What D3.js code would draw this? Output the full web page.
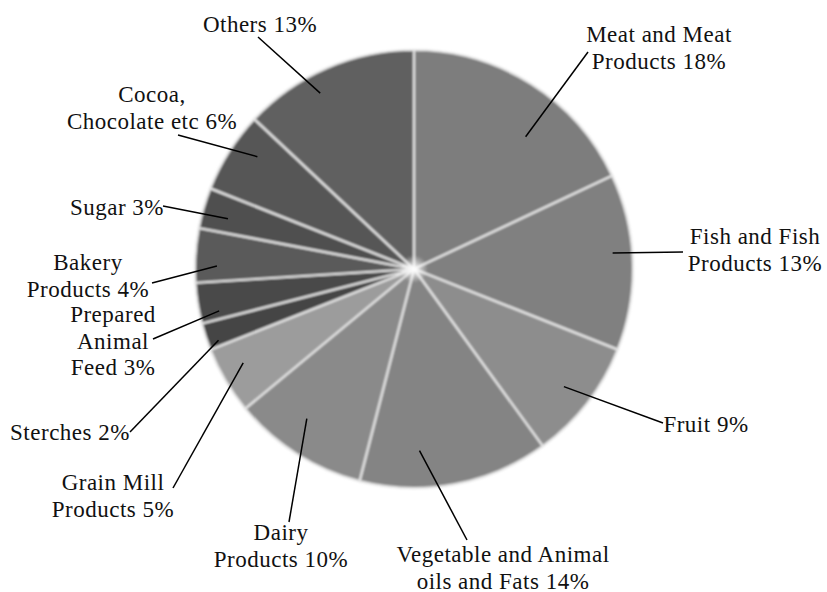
<!DOCTYPE html>
<html>
<head>
<meta charset="utf-8">
<script src="https://cdn.jsdelivr.net/npm/d3@7"></script>
<style>
  html, body { margin: 0; padding: 0; background: #fff; }
</style>
</head>
<body>
<svg id="chart" width="827" height="592"></svg>
<script>
// slices, clockwise from 12 o'clock
const categories = [
  "Meat and Meat\nProducts", "Fish and Fish\nProducts", "Fruit", "Vegetable and Animal\noils and Fats",
  "Dairy\nProducts", "Grain Mill\nProducts", "Sterches", "Prepared\nAnimal\nFeed",
  "Bakery\nProducts", "Sugar", "Cocoa,\nChocolate etc", "Others"
];
const shares = [18, 13, 9, 14, 10, 5, 2, 3, 4, 3, 6, 13];
const sliceGrays = ["#7d7d7d", "#808080", "#8d8d8d", "#848484", "#8a8a8a", "#9c9c9c",
                    "#444444", "#4a4a4a", "#5a5a5a", "#4f4f4f", "#575757", "#616161"];

// label layout: where the text sits (centre x, first baseline) and where the leader ends
const labelCenter = [[659, 42], [755, 244], [706, 432], [503, 562], [281, 540], [113, 490],
                     [70, 440], [113, 322], [88, 270], [117, 215], [152, 102], [260, 32]];
const leaderOuter = [[588, 52], [683, 252], [663, 423], [467, 540], [289, 522], [173, 488],
                     [130, 432], [153, 339], [152, 283], [163, 206], [178, 135], [258, 37]];
// where inside the slice the leader starts: fraction of the slice angle, fraction of radius
const leaderAngleFrac = [0.62, 0.44, 0.51, 0.68, 0.59, 0.6, 0.22, 0.21, 0.31, 0.4, 0.65, 0.4];
const leaderRadiusFrac = [0.79, 0.91, 0.87, 0.83, 0.84, 0.89, 0.95, 0.91, 0.9, 0.88, 0.88, 0.91];

const cx = 414, cy = 269, radius = 219;
const lineGap = 26.5;

const svg = d3.select("#chart");
const defs = svg.append("defs");
defs.append("filter").attr("id", "soft").attr("x", "-5%").attr("y", "-5%").attr("width", "110%").attr("height", "110%")
  .append("feGaussianBlur").attr("stdDeviation", 0.8);
const glow = defs.append("radialGradient").attr("id", "glow");
glow.append("stop").attr("offset", "0%").attr("stop-color", "#fff").attr("stop-opacity", 1);
glow.append("stop").attr("offset", "100%").attr("stop-color", "#fff").attr("stop-opacity", 0);

const data = categories.map((c, i) => ({ name: c, value: shares[i], color: sliceGrays[i], i }));

const pie = d3.pie().sort(null).value(d => d.value).startAngle(0).endAngle(2 * Math.PI);
const arcs = pie(data);
const arc = d3.arc().innerRadius(0).outerRadius(radius);

const g = svg.append("g").attr("transform", `translate(${cx},${cy})`).attr("filter", "url(#soft)");

g.selectAll("path.slice")
  .data(arcs)
  .join("path")
  .attr("class", "slice")
  .attr("d", arc)
  .attr("fill", d => d.data.color)
  .attr("stroke", "#e4e4e4")
  .attr("stroke-width", 2.2)
  .attr("stroke-linejoin", "round");

g.append("circle").attr("r", 14).attr("fill", "url(#glow)");

// leader lines
function innerPoint(d) {
  const i = d.data.i;
  const a = d.startAngle + (d.endAngle - d.startAngle) * leaderAngleFrac[i];
  const r = radius * leaderRadiusFrac[i];
  return [cx + r * Math.sin(a), cy - r * Math.cos(a)];
}

svg.append("g")
  .selectAll("line")
  .data(arcs)
  .join("line")
  .attr("x1", d => innerPoint(d)[0])
  .attr("y1", d => innerPoint(d)[1])
  .attr("x2", d => leaderOuter[d.data.i][0])
  .attr("y2", d => leaderOuter[d.data.i][1])
  .attr("stroke", "#000")
  .attr("stroke-width", 1.5);

// labels
const labels = svg.append("g")
  .attr("font-family", "Liberation Serif, serif")
  .attr("font-size", 23)
  .attr("letter-spacing", 0.5)
  .attr("fill", "#111")
  .selectAll("text")
  .data(arcs)
  .join("text")
  .attr("text-anchor", "middle")
  .attr("x", d => labelCenter[d.data.i][0])
  .attr("y", d => labelCenter[d.data.i][1]);

labels.each(function (d) {
  const lines = (d.data.name + " " + d.data.value + "%").split("\n");
  const t = d3.select(this);
  lines.forEach((ln, k) => {
    t.append("tspan")
      .attr("x", labelCenter[d.data.i][0])
      .attr("y", labelCenter[d.data.i][1] + k * lineGap)
      .text(ln);
  });
});
</script>
</body>
</html>
